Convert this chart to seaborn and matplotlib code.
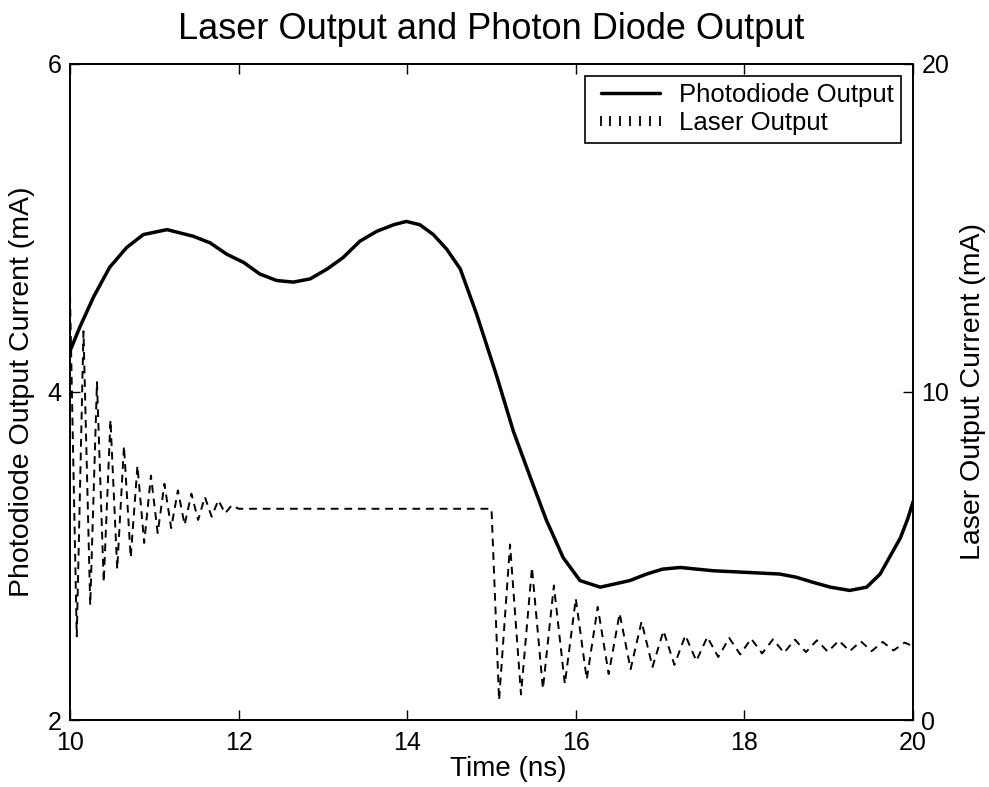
import numpy as np
import pandas as pd
import matplotlib
matplotlib.use("Agg")
import matplotlib.pyplot as plt
import seaborn as sns
from matplotlib.lines import Line2D

# ---------------- data ----------------
pd_time = [10.00, 10.12, 10.28, 10.47, 10.67, 10.87, 11.15, 11.46, 11.66, 11.86,
           12.06, 12.25, 12.45, 12.65, 12.85, 13.05, 13.24, 13.44, 13.64, 13.84,
           13.99, 14.15, 14.31, 14.47, 14.63, 14.82, 15.06, 15.26, 15.46, 15.65,
           15.85, 16.05, 16.29, 16.64, 16.84, 17.03, 17.24, 17.63, 18.03, 18.42,
           18.62, 18.81, 19.02, 19.25, 19.45, 19.61, 19.73, 19.85, 19.94, 20.00]
pd_current = [4.25, 4.40, 4.58, 4.76, 4.88, 4.96, 4.99, 4.95, 4.91, 4.84,
              4.79, 4.72, 4.68, 4.67, 4.69, 4.75, 4.82, 4.92, 4.98, 5.02,
              5.04, 5.02, 4.96, 4.87, 4.75, 4.48, 4.10, 3.76, 3.48, 3.22,
              2.99, 2.85, 2.81, 2.85, 2.89, 2.92, 2.93, 2.91, 2.90, 2.89,
              2.87, 2.84, 2.81, 2.79, 2.81, 2.89, 3.00, 3.11, 3.23, 3.33]

laser_time = [10.00, 10.08, 10.16, 10.24, 10.32, 10.40, 10.48, 10.56, 10.64, 10.72,
              10.80, 10.88, 10.96, 11.04, 11.12, 11.20, 11.28, 11.36, 11.44, 11.52,
              11.60, 11.68, 11.76, 11.84, 11.92, 12.00, 15.00,
              15.09, 15.22, 15.35, 15.48, 15.61, 15.74, 15.87, 16.00, 16.13, 16.26,
              16.39, 16.52, 16.65, 16.78, 16.91, 17.04, 17.17, 17.30, 17.43, 17.56,
              17.69, 17.82, 17.95, 18.08, 18.21, 18.34, 18.47, 18.60, 18.73, 18.86,
              18.99, 19.12, 19.25, 19.38, 19.51, 19.64, 19.77, 19.90, 20.00]
laser_current = [12.95, 2.55, 11.85, 3.50, 10.30, 4.20, 9.15, 4.60, 8.35, 4.95,
                 7.75, 5.40, 7.45, 5.70, 7.20, 5.85, 7.00, 5.95, 6.90, 6.10,
                 6.80, 6.20, 6.70, 6.30, 6.55, 6.44, 6.44,
                 0.60, 5.35, 0.78, 4.65, 0.95, 4.10, 1.10, 3.70, 1.24, 3.45,
                 1.40, 3.25, 1.55, 3.00, 1.62, 2.72, 1.68, 2.58, 1.80, 2.53,
                 1.92, 2.50, 2.00, 2.48, 2.03, 2.46, 2.05, 2.45, 2.07, 2.43,
                 2.08, 2.42, 2.10, 2.40, 2.10, 2.38, 2.12, 2.36, 2.25]

x_ticks = [10, 12, 14, 16, 18, 20]
left_ticks = [2, 4, 6]
right_ticks = [0, 10, 20]

title = "Laser Output and Photon Diode Output"
xlabel = "Time (ns)"
ylabel_left = "Photodiode Output Current (mA)"
ylabel_right = "Laser Output Current (mA)"
legend_labels = ["Photodiode Output", "Laser Output"]

# ---------------- style ----------------
sns.set_style("ticks")
plt.rcParams["font.family"] = ["Liberation Sans", "DejaVu Sans"]
plt.rcParams["axes.linewidth"] = 1.2
for k in ("text.color", "axes.labelcolor", "xtick.color", "ytick.color", "axes.edgecolor"):
    plt.rcParams[k] = "black"

fig = plt.figure(figsize=(9.89, 7.87), dpi=100)
ax = fig.add_axes([70 / 989, 1 - 720 / 787, 843 / 989, 656 / 787])
ax2 = ax.twinx()

df_pd = pd.DataFrame({"t": pd_time, "i": pd_current})
df_laser = pd.DataFrame({"t": laser_time, "i": laser_current})

sns.lineplot(data=df_pd, x="t", y="i", ax=ax, color="black", linewidth=2.5,
             estimator=None, sort=False)
sns.lineplot(data=df_laser, x="t", y="i", ax=ax2, color="black", linewidth=1.4,
             linestyle=(0, (4.0, 3.0)), estimator=None, sort=False)

ax.set_xlim(10, 20)
ax.set_ylim(2, 6)
ax2.set_ylim(0, 20)
ax.set_xticks(x_ticks)
ax.set_yticks(left_ticks)
ax2.set_yticks(right_ticks)

fs = 18
ax.tick_params(axis="x", direction="in", top=True, bottom=True, length=7,
               width=1.0, labelsize=fs, pad=8)
ax.tick_params(axis="y", direction="in", left=True, right=False, length=7,
               width=1.0, labelsize=fs, pad=6)
ax2.tick_params(axis="y", direction="in", right=True, left=False, length=7,
                width=1.0, labelsize=fs, pad=6)

for a in (ax, ax2):
    for s in a.spines.values():
        s.set_visible(True)
        s.set_color("black")
        s.set_linewidth(1.2)

ax.set_xlabel(xlabel, fontsize=20, va="center")
ax.set_ylabel(ylabel_left, fontsize=20.5, va="center")
ax2.set_ylabel(ylabel_right, fontsize=20.5, va="center")
ax.xaxis.set_label_coords(0.52, -0.074)
ax.yaxis.set_label_coords(-0.057, 0.5)
ax2.yaxis.set_label_coords(1.071, 0.5)

ax.set_title(title, fontsize=26, y=1.052, va="center", pad=0)

handles = [Line2D([], [], color="black", linewidth=2.5),
           Line2D([], [], color="black", linestyle="none", marker="|",
                  markersize=7, markeredgewidth=1.3)]
leg = ax2.legend(handles, legend_labels, loc="upper right", fontsize=18.5,
                 frameon=True, fancybox=False, framealpha=1, edgecolor="black",
                 handlelength=2.9, handletextpad=0.45, labelspacing=0.15,
                 borderpad=0.3, borderaxespad=0.45, numpoints=7)
leg.get_frame().set_linewidth(1.2)

fig.savefig("out.png", dpi=100)
